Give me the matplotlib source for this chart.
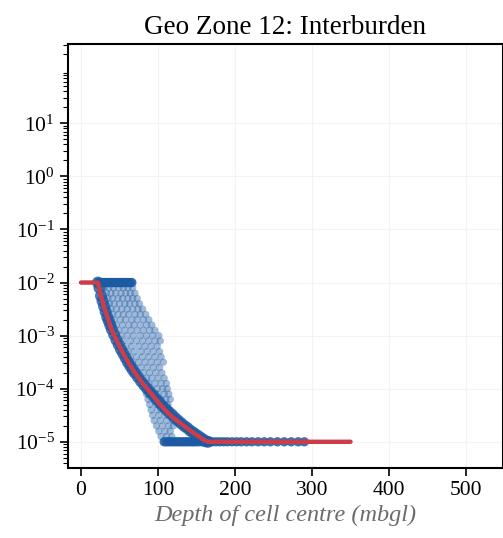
import matplotlib
matplotlib.use("Agg")
import matplotlib.pyplot as plt
import matplotlib.ticker as mticker
import numpy as np

plt.rcParams['font.family'] = ['Liberation Serif', 'DejaVu Serif']
plt.rcParams['mathtext.fontset'] = 'custom'
plt.rcParams['mathtext.rm'] = 'Liberation Serif'
plt.rcParams['mathtext.it'] = 'Liberation Serif:italic'

# fitted (red) curve: depth (mbgl) vs log10 K
red_depth = [0, 10, 22, 26, 30, 35, 40, 46, 52, 60, 70, 80, 90, 100, 111, 120,
             130, 141, 150, 158, 165, 200, 250, 300, 350]
red_logk = [-2.0, -2.0, -2.0, -2.25, -2.46, -2.68, -2.9, -3.08, -3.26, -3.47, -3.7,
            -3.9, -4.07, -4.25, -4.43, -4.55, -4.66, -4.78, -4.87, -4.95, -5.0,
            -5.0, -5.0, -5.0, -5.0]

# cells sitting at the upper cap (1e-2)
top_depth = [22, 24, 26, 28, 30, 32, 34, 36, 38, 40, 42, 44, 46, 48, 50, 52,
             54, 56, 58, 60, 62, 64, 66]
# cells sitting at the lower cap (1e-5)
bot_depth = [108, 111, 114, 117, 120, 123, 126, 129, 132, 135, 138, 141, 144,
             147, 150, 154, 158, 162, 166, 170, 175, 180, 185, 190, 196, 202,
             208, 215, 222, 230, 238, 246, 255, 264, 273, 282, 290]

# cells following the depth trend
band_depth = [22, 24, 26, 28, 30, 32, 34, 36, 38, 40, 43, 46, 49, 52, 55, 58,
              61, 64, 67, 70, 74, 78, 82, 86, 90, 94, 98, 102, 106, 110, 114,
              118, 122, 126, 130, 134, 138, 142, 146, 150, 154, 158, 162, 165]
band_logk = [-2.0, -2.1, -2.25, -2.35, -2.45, -2.55, -2.65, -2.72, -2.8, -2.88,
             -2.98, -3.08, -3.17, -3.26, -3.34, -3.42, -3.5, -3.57, -3.64, -3.7,
             -3.78, -3.86, -3.93, -4.0, -4.07, -4.13, -4.2, -4.26, -4.33, -4.38,
             -4.44, -4.49, -4.55, -4.6, -4.65, -4.7, -4.74, -4.79, -4.83, -4.87,
             -4.91, -4.95, -4.99, -5.0]

# scattered cells between the caps
cloud_rows = [
    (-2.1, [30, 36, 42, 49, 55, 61, 67]),
    (-2.2, [33, 39, 45, 52, 58, 64, 70]),
    (-2.3, [35, 41, 48, 54, 61, 67, 73]),
    (-2.4, [37, 43, 50, 57, 63, 70, 76]),
    (-2.5, [39, 46, 53, 60, 67, 74, 80]),
    (-2.6, [41, 48, 55, 62, 70, 77, 84]),
    (-2.7, [43, 51, 58, 66, 73, 81, 88]),
    (-2.8, [46, 54, 62, 69, 77, 85, 92]),
    (-2.9, [49, 57, 65, 73, 81, 89, 96]),
    (-3.0, [52, 60, 68, 77, 85, 93, 101]),
    (-3.1, [55, 64, 72, 80, 88, 96, 103]),
    (-3.2, [58, 66, 75, 83, 91, 99]),
    (-3.3, [61, 69, 78, 86, 94, 102]),
    (-3.4, [64, 72, 80, 88, 96, 104]),
    (-3.5, [67, 75, 83, 91, 99, 107]),
    (-3.6, [70, 78, 86, 94, 102]),
    (-3.7, [73, 81, 89, 97, 105]),
    (-3.8, [77, 85, 92, 100, 108]),
    (-3.9, [80, 88, 96, 104, 111]),
    (-4.0, [83, 91, 99, 106, 112]),
    (-4.1, [85, 93, 100, 108, 114]),
    (-4.2, [87, 95, 103, 110, 116]),
    (-4.3, [89, 97, 105, 113]),
    (-4.4, [91, 99, 107, 115]),
    (-4.5, [93, 101, 109, 117]),
    (-4.6, [95, 103, 111, 119]),
    (-4.7, [98, 106, 114, 120]),
    (-4.8, [101, 109, 116]),
    (-4.9, [104, 111, 118]),
]

ytick_exp = [-5, -4, -3, -2, -1, 0, 1]
xticks = [0, 100, 200, 300, 400, 500]

cloud_depth = [d for lk, ds in cloud_rows for d in ds]
cloud_logk = [lk for lk, ds in cloud_rows for d in ds]

fig = plt.figure(figsize=(5.03, 5.38), dpi=100)
ax = fig.add_axes([0.135, 0.130, 0.865, 0.788])

blue = '#1c5aa3'
ax.scatter(cloud_depth, 10.0 ** np.array(cloud_logk), s=28, color=blue,
           alpha=0.42, edgecolors='none', zorder=2)
ax.scatter(top_depth, [1e-2] * len(top_depth), s=45, color=blue, alpha=0.85,
           edgecolors='none', zorder=2)
ax.scatter(bot_depth, [1e-5] * len(bot_depth), s=45, color=blue, alpha=0.85,
           edgecolors='none', zorder=2)
ax.scatter(band_depth, 10.0 ** np.array(band_logk), s=75, color=blue, alpha=0.8,
           edgecolors='none', zorder=2)
ax.plot(red_depth, 10.0 ** np.array(red_logk), color='#cc3d4a', lw=3.2,
        solid_capstyle='round', zorder=3)

ax.set_yscale('log')
ax.set_xlim(-17, 548)
ax.set_ylim(3.2e-6, 3.1e2)
ax.set_yticks([10.0 ** e for e in ytick_exp])
ax.set_yticklabels(['$10^{%d}$' % e for e in ytick_exp])
ax.yaxis.set_minor_locator(mticker.LogLocator(base=10, subs=np.arange(2, 10), numticks=50))
ax.yaxis.set_minor_formatter(mticker.NullFormatter())
ax.set_xticks(xticks)

ax.grid(True, which='major', color='#f3f3f3', lw=0.8, zorder=0)
ax.set_axisbelow(True)

for s in ax.spines.values():
    s.set_linewidth(1.5)
ax.tick_params(axis='both', which='major', labelsize=15.5, length=6, width=1.2)
ax.tick_params(axis='y', which='minor', length=3.5, width=0.8)

ax.set_title('Geo Zone 12: Interburden', fontsize=19.5, pad=7)
ax.set_xlabel('Depth of cell centre (mbgl)', fontsize=17.5, style='italic',
              color='#6b6b6b', labelpad=3)

fig.savefig('out.png', dpi=100)
